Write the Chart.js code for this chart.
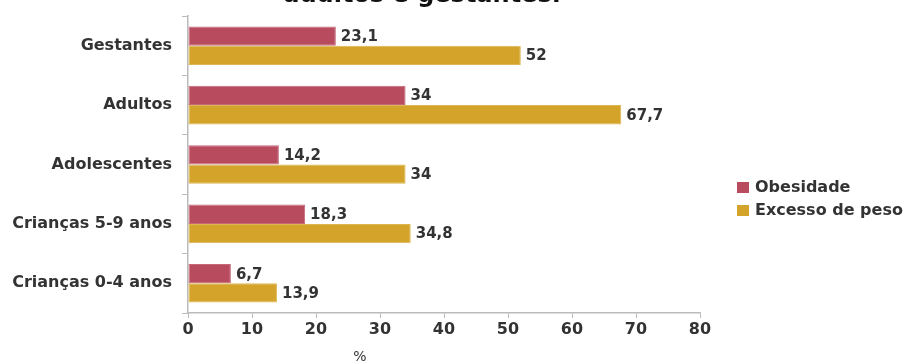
<!DOCTYPE html>
<html>
<head>
<meta charset="utf-8">
<script src="https://cdn.jsdelivr.net/npm/chart.js@4.4.1/dist/chart.umd.min.js"></script>
<style>
    html, body { margin: 0; padding: 0; background: #fff; }
    #wrap { width: 912px; height: 363px; }
</style>
</head>
<body>
<div id="wrap"><canvas id="chart" width="912" height="363"></canvas></div>
<script>
const categories = ['Gestantes', 'Adultos', 'Adolescentes', 'Crianças 5-9 anos', 'Crianças 0-4 anos'];
const obesidade = [23.1, 34, 14.2, 18.3, 6.7];
const excessoPeso = [52, 67.7, 34, 34.8, 13.9];
const seriesNames = ['Obesidade', 'Excesso de peso'];
const seriesColors = ['#b84b5d', '#d3a32a'];
const titleText = 'adultos e gestantes.';
const axisTitle = '%';

const FONT = '"DejaVu Sans", sans-serif';
const formatValue = v => String(v).replace('.', ',');

// labels at bar ends, legend, cut-off title and the "%" axis title
const extrasPlugin = {
    id: 'extras',
    afterDatasetsDraw(chart) {
        const ctx = chart.ctx;
        const area = chart.chartArea;
        ctx.save();
        ctx.fillStyle = '#333';
        ctx.font = `bold 15px ${FONT}`;
        ctx.textAlign = 'left';
        ctx.textBaseline = 'middle';
        chart.data.datasets.forEach((ds, i) => {
            chart.getDatasetMeta(i).data.forEach((bar, j) => {
                ctx.fillText(formatValue(ds.data[j]), bar.x + 5, bar.y + 1);
            });
        });

        // legend
        ctx.font = `bold 16px ${FONT}`;
        chart.data.datasets.forEach((ds, i) => {
            const y = 188 + i * 23;
            ctx.fillStyle = ds.backgroundColor;
            ctx.fillRect(area.right + 37, y - 6, 12, 11);
            ctx.fillStyle = '#333';
            ctx.fillText(ds.label, area.right + 55, y);
        });

        // title, only the lower part is visible
        ctx.fillStyle = '#111';
        ctx.font = `bold 24px ${FONT}`;
        ctx.textAlign = 'center';
        ctx.textBaseline = 'alphabetic';
        ctx.fillText(titleText, 422, 2);

        ctx.fillStyle = '#333';
        ctx.font = `14px ${FONT}`;
        ctx.textBaseline = 'middle';
        ctx.fillText(axisTitle, 360, 357);
        ctx.restore();
    }
};

new Chart(document.getElementById('chart').getContext('2d'), {
    type: 'bar',
    data: {
        labels: categories,
        datasets: [
            { label: seriesNames[0], data: obesidade, backgroundColor: seriesColors[0], borderColor: '#c4687a', borderWidth: 1, borderSkipped: false },
            { label: seriesNames[1], data: excessoPeso, backgroundColor: seriesColors[1], borderColor: '#dcb650', borderWidth: 1, borderSkipped: false }
        ]
    },
    options: {
        indexAxis: 'y',
        responsive: false,
        animation: false,
        datasets: { bar: { categoryPercentage: 0.65, barPercentage: 1 } },
        layout: { padding: { top: 16, right: 212, left: 0, bottom: 0 } },
        plugins: {
            legend: { display: false },
            title: { display: false },
            tooltip: { enabled: false }
        },
        scales: {
            x: {
                min: 0,
                max: 80,
                ticks: { stepSize: 10, color: '#333', padding: 2, font: { family: 'DejaVu Sans', size: 16, weight: 'bold' } },
                grid: { drawOnChartArea: false, color: '#bbb', tickLength: 5 },
                border: { color: '#bbb', width: 1.5 },
                afterFit: s => { s.height = 50; }
            },
            y: {
                ticks: { color: '#333', padding: 10, font: { family: 'DejaVu Sans', size: 16, weight: 'bold' } },
                grid: { offset: true, drawOnChartArea: false, color: '#bbb', tickLength: 6 },
                border: { color: '#bbb', width: 1.5 },
                afterFit: s => { s.width = 188; s.paddingTop = 0; s.paddingBottom = 0; }
            }
        }
    },
    plugins: [extrasPlugin]
});
</script>
</body>
</html>
